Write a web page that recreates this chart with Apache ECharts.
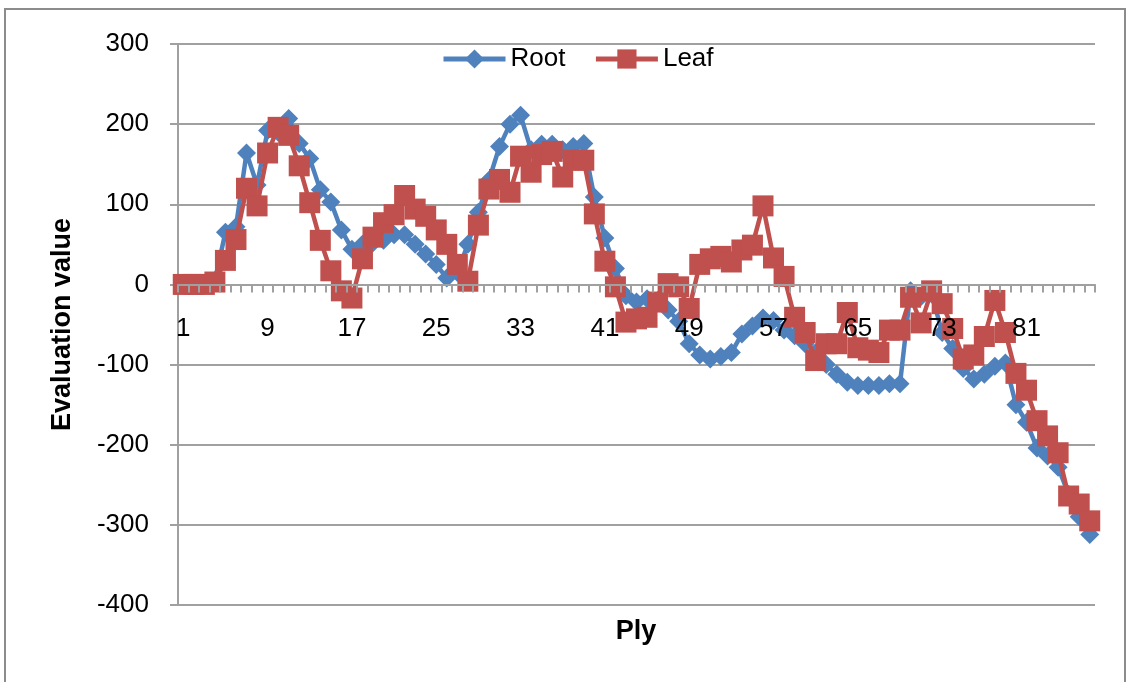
<!DOCTYPE html>
<html>
<head>
<meta charset="utf-8">
<script src="https://cdn.jsdelivr.net/npm/echarts@6/dist/echarts.min.js"></script>
<style>html,body{margin:0;padding:0;background:#fff;}#chart{width:1132px;height:682px;}</style>
</head>
<body>
<div id="chart"></div>
<script>
var categories = ['1','2','3','4','5','6','7','8','9','10','11','12','13','14','15','16','17','18','19','20','21','22','23','24','25','26','27','28','29','30','31','32','33','34','35','36','37','38','39','40','41','42','43','44','45','46','47','48','49','50','51','52','53','54','55','56','57','58','59','60','61','62','63','64','65','66','67','68','69','70','71','72','73','74','75','76','77','78','79','80','81','82','83','84','85','86','87'];

var rootValues = [0,0,0,5,65,72,164,124,192,190,
  207,176,157,118,103,68,44,50,52,55,
  62,62,50,38,25,8,15,50,90,130,
  172,200,211,168,175,175,168,172,176,109,
  58,20,-14,-22,-18,-20,-32,-46,-74,-88,
  -93,-90,-85,-62,-52,-42,-45,-57,-64,-74,
  -85,-100,-112,-122,-126,-126,-126,-124,-124,-8,
  -15,-12,-60,-80,-105,-118,-112,-102,-98,-150,
  -172,-204,-214,-228,-262,-290,-312];

var leafValues = [0,0,0,3,30,56,120,98,164,196,
  186,148,102,55,17,-8,-17,32,59,77,
  87,111,94,85,68,50,25,4,74,119,
  131,115,160,140,162,166,134,155,155,88,
  29,-3,-47,-43,-41,-22,1,-3,-30,25,
  32,35,28,43,49,98,33,10,-41,-60,
  -95,-74,-74,-35,-79,-82,-85,-57,-57,-16,
  -48,-8,-24,-55,-93,-88,-65,-20,-60,-111,
  -132,-170,-189,-210,-264,-274,-295];

var seriesNames = ['Root', 'Leaf'];
var yTicks = {min: -400, max: 300, interval: 100};

var chart = echarts.init(document.getElementById('chart'));
var font = '"Liberation Sans", Arial, sans-serif';
var gridTop = 44, gridBottom = 77, plotH = 682 - gridTop - gridBottom;
var zeroOffset = -plotH * (0 - yTicks.min) / (yTicks.max - yTicks.min);
chart.setOption({
  animation: false,
  backgroundColor: '#fff',
  textStyle: {fontFamily: font},
  grid: {left: 178, right: 37, top: gridTop, bottom: gridBottom, containLabel: false},
  legend: {
    left: 436, top: 41,
    itemWidth: 62, itemHeight: 24, itemGap: 28,
    lineStyle: {width: 5},
    textStyle: {fontSize: 26, color: '#000', fontFamily: font},
    data: seriesNames
  },
  xAxis: {
    type: 'category',
    data: categories,
    boundaryGap: true,
    position: 'bottom',
    offset: zeroOffset,
    z: 10,
    axisLine: {onZero: false, lineStyle: {color: '#a0a0a0', width: 2}},
    axisTick: {show: true, interval: 0, length: 8, lineStyle: {color: '#a0a0a0', width: 2}},
    axisLabel: {interval: 7, margin: 31, fontSize: 26, color: '#000', fontFamily: font},
    splitLine: {show: false}
  },
  yAxis: {
    type: 'value',
    min: yTicks.min, max: yTicks.max, interval: yTicks.interval,
    name: 'Evaluation value',
    nameLocation: 'middle',
    nameGap: 102,
    nameTextStyle: {fontSize: 27, fontWeight: 'bold', color: '#000', fontFamily: font},
    axisLine: {show: true, lineStyle: {color: '#a0a0a0', width: 2}},
    axisTick: {show: true, length: 8, lineStyle: {color: '#a0a0a0', width: 2}},
    axisLabel: {margin: 29, fontSize: 26, color: '#000', fontFamily: font},
    splitLine: {show: true, lineStyle: {color: '#a0a0a0', width: 2}}
  },
  graphic: [
    {type: 'rect', shape: {x: 5, y: 9, width: 1120, height: 680}, style: {fill: 'none', stroke: '#8c8c8c', lineWidth: 2}, silent: true},
    {type: 'text', x: 636, y: 632, style: {text: 'Ply', fontSize: 27, fontWeight: 'bold', fill: '#000', align: 'center', verticalAlign: 'middle', fontFamily: font}}
  ],
  series: [
    {
      name: seriesNames[0], type: 'line', data: rootValues,
      symbol: 'diamond', symbolSize: 19, showAllSymbol: true,
      itemStyle: {color: '#4F81BD'},
      lineStyle: {color: '#4F81BD', width: 4.5},
      z: 2
    },
    {
      name: seriesNames[1], type: 'line', data: leafValues,
      symbol: 'rect', symbolSize: 21, showAllSymbol: true,
      itemStyle: {color: '#C0504D'},
      lineStyle: {color: '#C0504D', width: 4.5},
      z: 3
    }
  ]
});
</script>
</body>
</html>
